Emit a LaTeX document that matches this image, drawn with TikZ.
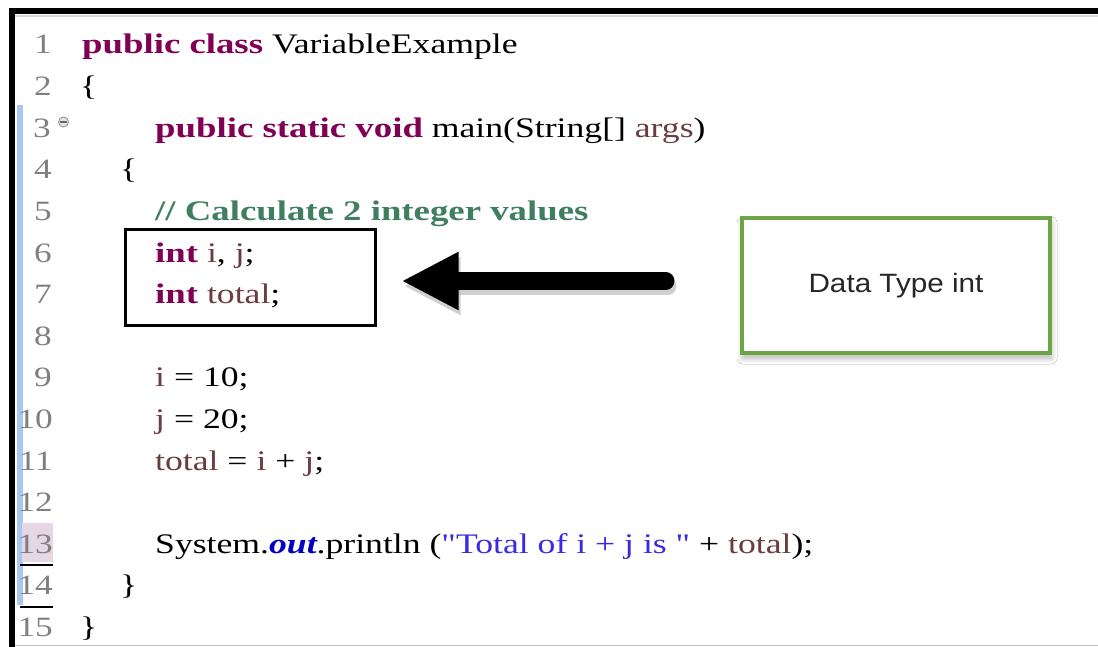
\documentclass[tikz,border=0pt]{standalone}
\usepackage{fontspec}
\setmainfont{Liberation Serif}
\newfontfamily\codefont[FakeStretch=1.26, BoldFeatures={FakeStretch=1.30}]{Liberation Serif}
\newfontfamily\notefont[FakeStretch=1.12]{Liberation Sans}
\usetikzlibrary{arrows.meta,shadows.blur}
\definecolor{kwc}{HTML}{7F0055}
\definecolor{cmc}{HTML}{3F7F5F}
\definecolor{varc}{HTML}{6A3E3E}
\definecolor{strc}{HTML}{3A2AE0}
\definecolor{fldc}{HTML}{0000C0}
\definecolor{lnc}{HTML}{808080}
\definecolor{rulerc}{HTML}{A9C8EC}
\definecolor{markc}{HTML}{E6D6E6}
\definecolor{boxgreen}{HTML}{6DA544}
\newcommand{\kw}[1]{\textcolor{kwc}{\bfseries #1}}
\newcommand{\lvar}[1]{\textcolor{varc}{#1}}
\newcommand{\strlit}[1]{\textcolor{strc}{#1}}
\begin{document}
\begin{tikzpicture}[x=1pt,y=-1pt,
  code/.style={anchor=base west, inner sep=0pt, font=\codefont\fontsize{28.3}{34}\selectfont},
  lno/.style={anchor=base east, inner sep=0pt, text=lnc, font=\codefont\fontsize{28}{34}\selectfont},
  declbox/.style={draw=black, line width=3pt, minimum width=250pt, minimum height=95pt, inner sep=0pt},
  notebox/.style={draw=boxgreen, line width=4pt, fill=white, minimum width=308pt, minimum height=135pt,
    font=\notefont\fontsize{26.5}{30}\selectfont, text=black!85,
    blur shadow={shadow xshift=1pt, shadow yshift=-5pt, shadow blur steps=10, shadow blur radius=6pt, shadow opacity=30}},
  bigarrow/.style={line width=17pt, line cap=round, -{Triangle[length=57pt,width=54pt]}}
]
\useasboundingbox (0,0) rectangle (1098,647);
\fill[white] (0,0) rectangle (1098,647);

% editor frame and ruler
\fill[rulerc] (16.5,105) rectangle (22.5,605);
\fill[markc] (22,523) rectangle (53,562);
\draw[black, line width=2.5pt] (20,565) -- (53,565);
\draw[black, line width=2.5pt] (20,607) -- (53,607);
\draw[black!25, line width=1.5pt] (14,645.5) -- (1098,645.5);
\draw[black!15, line width=2.5pt] (14,16) -- (1098,16);
\draw[black, line width=6pt] (11.5,647) -- (11.5,11.5) -- (1098,11.5);

% line numbers
\node[lno] (n1)  at (52,54)    {1};
\node[lno] (n2)  at (52,95.6)  {2};
\node[lno] (n3)  at (51,137.2) {3};
\node[lno] (n4)  at (52,178.8) {4};
\node[lno] (n5)  at (52,220.4) {5};
\node[lno] (n6)  at (52,262)   {6};
\node[lno] (n7)  at (52,303.6) {7};
\node[lno] (n8)  at (52,345.2) {8};
\node[lno] (n9)  at (52,386.8) {9};
\node[lno] (n10) at (53,428.4) {10};
\node[lno] (n11) at (53,470)   {11};
\node[lno] (n12) at (53,511.6) {12};
\node[lno] (n13) at (53,553.2) {13};
\node[lno] (n14) at (53,594.8) {14};
\node[lno] (n15) at (53,636.4) {15};

% fold marker on line 3
\node[circle, draw=black!45, fill=black!10, line width=0.8pt, minimum size=10pt, inner sep=0pt] (fold) at (63.5,122) {};
\draw[black!60, line width=1.2pt] (60,122) -- (67,122);

% source code
\node[code] (c1)  at (82,54)    {\kw{public class} VariableExample};
\node[code] (c2)  at (80,95.6)  {\{};
\node[code] (c3)  at (155,137.2) {\kw{public static void} main(String[] \lvar{args})};
\node[code] (c4)  at (120,178.8) {\{};
\node[code] (c5)  at (155,220.4) {\textcolor{cmc}{\bfseries // Calculate 2 integer values}};
\node[code] (c6)  at (155,262)   {\kw{int} \lvar{i}, \lvar{j};};
\node[code] (c7)  at (155,303.6) {\kw{int} \lvar{total};};
\node[code] (c9)  at (155,386.8) {\lvar{i} = 10;};
\node[code] (c10) at (155,428.4) {\lvar{j} = 20;};
\node[code] (c11) at (155,470)   {\lvar{total} = \lvar{i} + \lvar{j};};
\node[code] (c13) at (155,553.2) {System.\textcolor{fldc}{\bfseries\itshape out}.println (\strlit{"Total of i + j is "} + \lvar{total});};
\node[code] (c14) at (120,594.8) {\}};
\node[code] (c15) at (80,636.4)  {\}};

% highlighted declarations and the label pointing at them
\node[declbox] (decl) at (250,277.5) {};
\node[notebox] (dt) at (896,285.5) {Data Type int};

\draw[bigarrow, black!30, opacity=0.6, transform canvas={xshift=2pt, yshift=-5pt},
  shorten <=74pt, shorten >=25pt] (dt.west |- 0,281) -- (decl.east |- 0,281);
\draw[bigarrow, black, shorten <=74pt, shorten >=25pt] (dt.west |- 0,281) -- (decl.east |- 0,281);
\end{tikzpicture}
\end{document}
